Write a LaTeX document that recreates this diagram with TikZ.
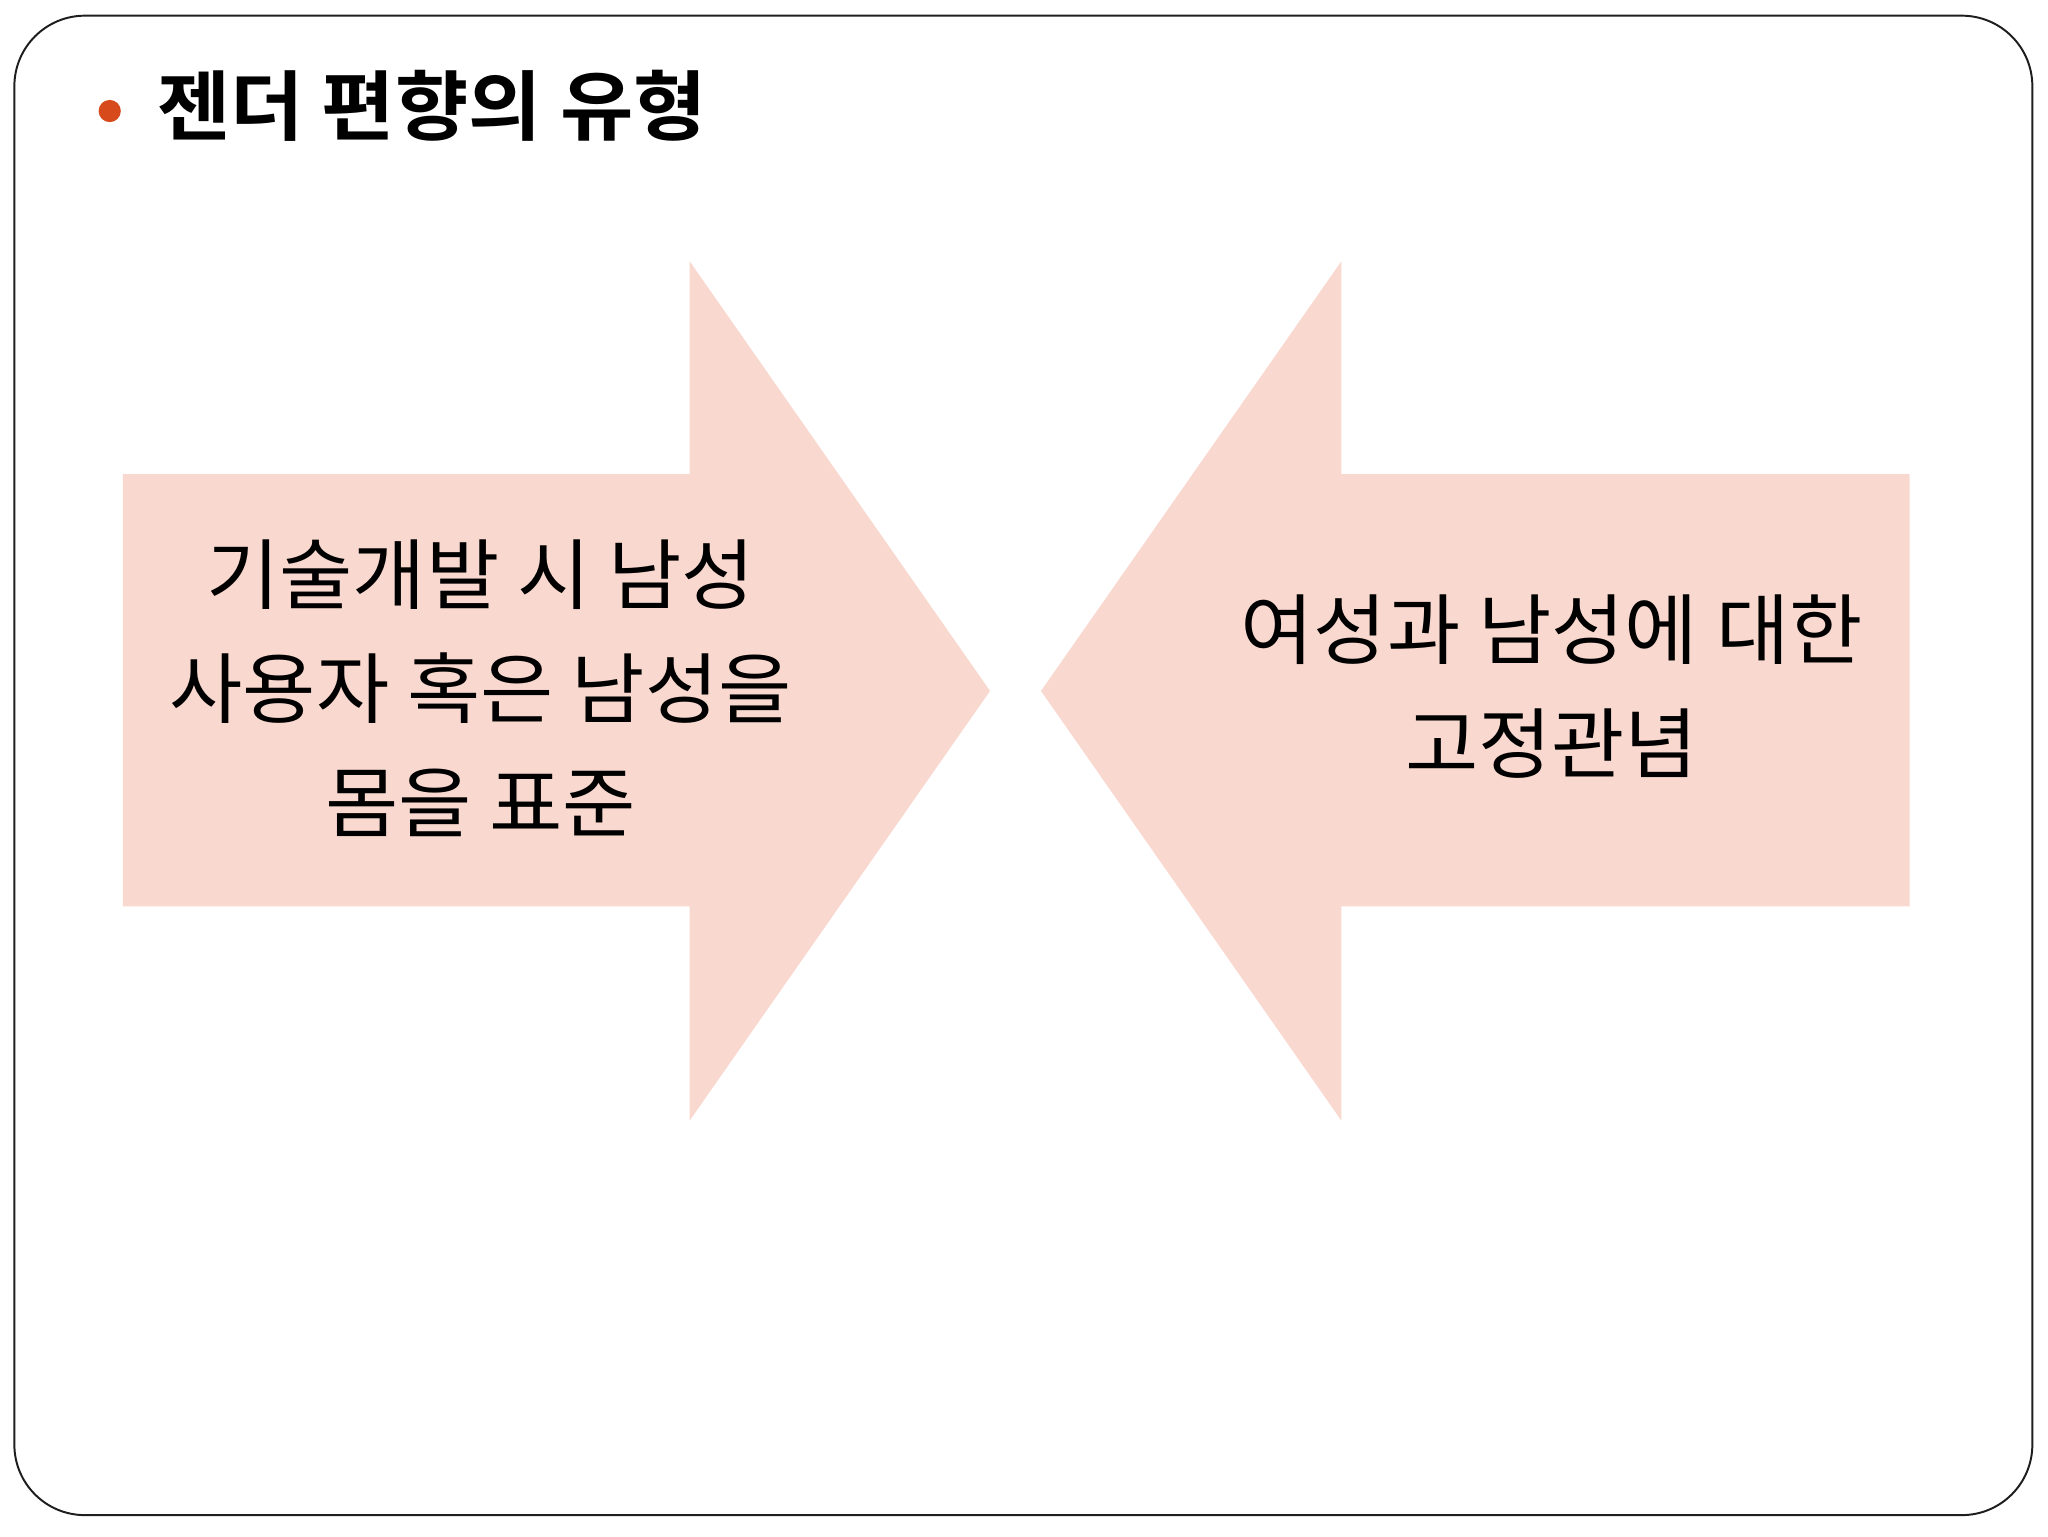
\documentclass[tikz,border=0pt]{standalone}
\usepackage{fontspec}
\setmainfont{Noto Sans CJK KR}[BoldFont={Noto Sans CJK KR Bold}]
\definecolor{arrowfill}{RGB}{249,216,207}
\definecolor{bulletred}{RGB}{214,74,28}
\definecolor{framegray}{RGB}{30,30,30}
\tikzset{
  frame/.style={draw=framegray, line width=1.5pt, rounded corners=54pt},
  bigarrow/.style={fill=arrowfill, draw=none},
  bodytext/.style={inner sep=0pt, align=center, xscale=1.22, yscale=1.18, font=\fontsize{50}{74}\selectfont},
  titletext/.style={inner sep=0pt, anchor=west, xscale=1.11, yscale=1.06, font=\fontsize{55}{60}\selectfont\bfseries},
}
\begin{document}
\begin{tikzpicture}[x=1pt, y=-1pt]
\useasboundingbox (0,0) rectangle (1568,1176);
\draw[frame] (11,12) rectangle (1556,1160);
\fill[bulletred] (84,85) circle (8.5pt);
\node[titletext] (title) at (120,81) {젠더 편향의 유형};
\fill[bigarrow] (94,363) -- (528,363) -- (528,200) -- (758,529) -- (528,858) -- (528,694) -- (94,694) -- cycle;
\fill[bigarrow] (797,529) -- (1027,200) -- (1027,363) -- (1462,363) -- (1462,694) -- (1027,694) -- (1027,858) -- cycle;
\node[bodytext] (lefttext) at (368,527) {기술개발 시 남성\\사용자 혹은 남성을\\몸을 표준};
\node[bodytext] (righttext) at (1188,526) {여성과 남성에 대한\\고정관념};
\end{tikzpicture}
\end{document}
